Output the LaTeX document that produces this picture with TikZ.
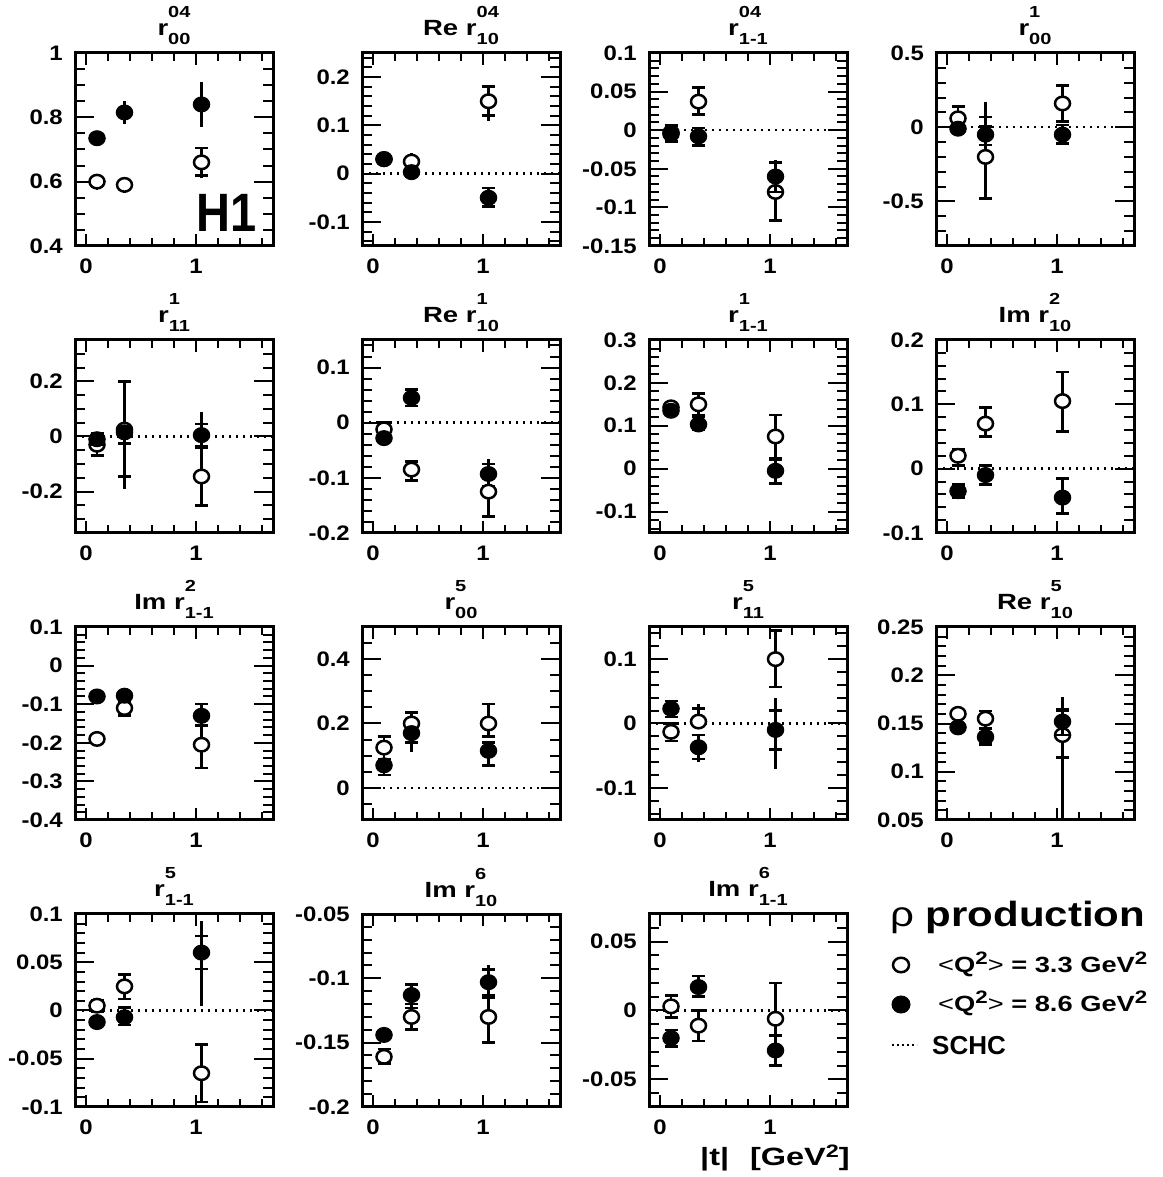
\documentclass[tikz,border=0pt]{standalone}
\usepackage{fontspec}
\setmainfont{Liberation Sans}
\usepackage{graphicx}
\usetikzlibrary{positioning, shapes.geometric, calc}

\newcommand\sx[2][1.14]{\scalebox{#1}[1]{#2}}
\newcommand\sups[1]{\raisebox{8pt}{\fontsize{18}{18}\selectfont #1}}
\newcommand\rtitle[3]{\sx[1.25]{#1\rlap{\raisebox{18pt}{\fontsize{16}{16}\selectfont #2}}\raisebox{-9pt}{\fontsize{16}{16}\selectfont #3}}}

% col, row, ymin, ymax, minor step
\newcommand\smepanel[5]{%
  \pgfmathsetmacro\pxo{75+287*#1}%
  \pgfmathsetmacro\pyo{1177-246-287*#2}%
  \pgfmathsetmacro\yu{193/((#4)-(#3))}%
  \pgfmathsetmacro\ymn{-1*(#3)}%
  \def\ylo{#3}\def\yhi{#4}\def\mstep{#5}%
  \pgfmathtruncatemacro\mfirst{ceil((#3)/(#5)-0.001)}%
  \pgfmathtruncatemacro\mlast{floor((#4)/(#5)+0.001)}%
}

\newcommand\rhoaxes[3]{%
  \draw[frame] (-0.1,\ylo) rectangle (1.7,\yhi);
  \foreach \k in {\mfirst,...,\mlast}{
    \draw[tck] (-0.1,{\k*\mstep}) -- ++(10pt,0);
    \draw[tck] (1.7,{\k*\mstep}) -- ++(-10pt,0);}
  \foreach \v [count=\i] in {#2}{
    \draw[tck] (-0.1,\v) -- ++(19pt,0);
    \draw[tck] (1.7,\v) -- ++(-19pt,0);
    \node[tlab, left=12pt] (#1y\i) at (-0.1,\v) {\sx{\v}};}
  \foreach \t in {0.2,0.4,0.6,0.8,1.2,1.4,1.6}{
    \draw[tck] (\t,\ylo) -- ++(0,8pt);
    \draw[tck] (\t,\yhi) -- ++(0,-8pt);}
  \foreach \t in {0,1}{
    \draw[tck] (\t,\ylo) -- ++(0,12pt);
    \draw[tck] (\t,\yhi) -- ++(0,-12pt);
    \node[tlab, below=13pt] (#1x\t) at (\t,\ylo) {\sx{\t}};}
  \node[ttl, anchor=base, yshift=17pt] (#1t) at (0.8,\yhi) {#3};
}

% name, marker, x, y, low, stat low, stat high, high
\newcommand\smepoint[8]{%
  \draw[ebar] (#3,#5) -- (#3,#8);
  \draw[ebar] (#3,#6) ++(-6.5pt,0) -- ++(13pt,0);
  \draw[ebar] (#3,#7) ++(-6.5pt,0) -- ++(13pt,0);
  \node[#2] (#1) at (#3,#4) {};
}

\begin{document}
\begin{tikzpicture}[x=1pt, y=1pt,
    frame/.style={line width=3pt},
    tck/.style={line width=2pt},
    ebar/.style={line width=2.6pt},
    schc/.style={line width=2.4pt, dash pattern=on 2.4pt off 4.6pt},
    opt/.style={ellipse, draw, fill=white, line width=2.5pt, minimum width=15pt, minimum height=13.5pt, inner sep=0pt},
    fpt/.style={ellipse, draw, fill=black, line width=1pt, minimum width=16.5pt, minimum height=15pt, inner sep=0pt},
    tlab/.style={font=\fontsize{21}{21}\selectfont\bfseries, inner sep=0pt},
    ttl/.style={font=\fontsize{22}{22}\selectfont\bfseries, inner sep=0pt},
    hone/.style={font=\fontsize{54}{54}\selectfont\bfseries, inner sep=0pt},
    leg/.style={font=\fontsize{22}{22}\selectfont\bfseries, inner sep=0pt},
    panel/.style={shift={(\pxo,\pyo)}, x=110pt, y=\yu pt, shift={(0.1,\ymn)}}]
\useasboundingbox[fill=white] (0,0) rectangle (1162,1177);

\smepanel{0}{0}{0.4}{1.0}{0.05}
\begin{scope}[panel]
\rhoaxes{pa}{0.4,0.6,0.8,1}{\rtitle{r}{04}{00}}
\node[hone, anchor=base west] (hone) at (1.0,0.4435) {\sx[0.87]{H1}};
\smepoint{paO1}{opt}{0.1}{0.60}{0.575}{0.60}{0.60}{0.60}
\smepoint{paO2}{opt}{0.35}{0.59}{0.565}{0.59}{0.59}{0.59}
\smepoint{paO3}{opt}{1.05}{0.66}{0.61}{0.62}{0.705}{0.705}
\smepoint{paF1}{fpt}{0.1}{0.735}{0.735}{0.735}{0.735}{0.735}
\smepoint{paF2}{fpt}{0.35}{0.815}{0.78}{0.815}{0.815}{0.85}
\smepoint{paF3}{fpt}{1.05}{0.84}{0.77}{0.84}{0.84}{0.91}
\end{scope}

\smepanel{1}{0}{-0.15}{0.25}{0.02}
\begin{scope}[panel]
\rhoaxes{pb}{-0.1,0,0.1,0.2}{\rtitle{Re r}{04}{10}}
\draw[schc] (-0.1,0) -- (1.7,0);
\smepoint{pbO1}{opt}{0.1}{0.03}{0.03}{0.03}{0.03}{0.03}
\smepoint{pbO2}{opt}{0.35}{0.025}{0.025}{0.025}{0.025}{0.042}
\smepoint{pbO3}{opt}{1.05}{0.15}{0.11}{0.12}{0.18}{0.18}
\smepoint{pbF1}{fpt}{0.1}{0.03}{0.03}{0.03}{0.03}{0.03}
\smepoint{pbF2}{fpt}{0.35}{0.003}{-0.012}{0.003}{0.003}{0.003}
\smepoint{pbF3}{fpt}{1.05}{-0.05}{-0.068}{-0.068}{-0.03}{-0.03}
\end{scope}

\smepanel{2}{0}{-0.15}{0.1}{0.01}
\begin{scope}[panel]
\rhoaxes{pc}{-0.15,-0.1,-0.05,0,0.05,0.1}{\rtitle{r}{04}{1-1}}
\draw[schc] (-0.1,0) -- (1.7,0);
\smepoint{pcO1}{opt}{0.1}{-0.003}{-0.003}{-0.003}{-0.003}{-0.003}
\smepoint{pcO2}{opt}{0.35}{0.037}{0.02}{0.02}{0.055}{0.055}
\smepoint{pcO3}{opt}{1.05}{-0.08}{-0.117}{-0.117}{-0.08}{-0.065}
\smepoint{pcF1}{fpt}{0.1}{-0.005}{-0.015}{-0.015}{0.006}{0.006}
\smepoint{pcF2}{fpt}{0.35}{-0.008}{-0.02}{-0.02}{0.003}{0.003}
\smepoint{pcF3}{fpt}{1.05}{-0.06}{-0.08}{-0.08}{-0.042}{-0.038}
\end{scope}

\smepanel{3}{0}{-0.8}{0.5}{0.1}
\begin{scope}[panel]
\rhoaxes{pd}{-0.5,0,0.5}{\rtitle{r}{1}{00}}
\draw[schc] (-0.1,0) -- (1.7,0);
\smepoint{pdO1}{opt}{0.1}{0.06}{0.0}{0.06}{0.14}{0.14}
\smepoint{pdO2}{opt}{0.35}{-0.2}{-0.48}{-0.48}{0.07}{0.07}
\smepoint{pdO3}{opt}{1.05}{0.16}{0.04}{0.04}{0.28}{0.28}
\smepoint{pdF1}{fpt}{0.1}{-0.01}{-0.01}{-0.01}{-0.01}{-0.01}
\smepoint{pdF2}{fpt}{0.35}{-0.05}{-0.12}{-0.12}{0.005}{0.17}
\smepoint{pdF3}{fpt}{1.05}{-0.05}{-0.11}{-0.11}{0.016}{0.016}
\end{scope}

\smepanel{0}{1}{-0.35}{0.35}{0.05}
\begin{scope}[panel]
\rhoaxes{pe}{-0.2,0,0.2}{\rtitle{r}{1}{11}}
\draw[schc] (-0.1,0) -- (1.7,0);
\smepoint{peO1}{opt}{0.1}{-0.03}{-0.07}{-0.07}{-0.03}{-0.03}
\smepoint{peO2}{opt}{0.35}{0.025}{-0.19}{-0.145}{0.2}{0.2}
\smepoint{peO3}{opt}{1.05}{-0.145}{-0.25}{-0.25}{-0.04}{-0.04}
\smepoint{peF1}{fpt}{0.1}{-0.01}{-0.03}{-0.03}{0.01}{0.01}
\smepoint{peF2}{fpt}{0.35}{0.015}{-0.025}{-0.025}{0.03}{0.03}
\smepoint{peF3}{fpt}{1.05}{0.005}{-0.035}{-0.035}{0.045}{0.09}
\end{scope}

\smepanel{1}{1}{-0.2}{0.15}{0.02}
\begin{scope}[panel]
\rhoaxes{pf}{-0.2,-0.1,0,0.1}{\rtitle{Re r}{1}{10}}
\draw[schc] (-0.1,0) -- (1.7,0);
\smepoint{pfO1}{opt}{0.1}{-0.012}{-0.012}{-0.012}{0.0}{0.0}
\smepoint{pfO2}{opt}{0.35}{-0.085}{-0.105}{-0.105}{-0.07}{-0.07}
\smepoint{pfO3}{opt}{1.05}{-0.125}{-0.17}{-0.17}{-0.115}{-0.115}
\smepoint{pfF1}{fpt}{0.1}{-0.028}{-0.028}{-0.028}{-0.028}{-0.028}
\smepoint{pfF2}{fpt}{0.35}{0.045}{0.03}{0.03}{0.06}{0.06}
\smepoint{pfF3}{fpt}{1.05}{-0.093}{-0.115}{-0.093}{-0.075}{-0.065}
\end{scope}

\smepanel{2}{1}{-0.15}{0.3}{0.02}
\begin{scope}[panel]
\rhoaxes{pg}{-0.1,0,0.1,0.2,0.3}{\rtitle{r}{1}{1-1}}
\smepoint{pgO1}{opt}{0.1}{0.143}{0.143}{0.143}{0.143}{0.143}
\smepoint{pgO2}{opt}{0.35}{0.15}{0.125}{0.125}{0.175}{0.175}
\smepoint{pgO3}{opt}{1.05}{0.075}{0.02}{0.025}{0.125}{0.125}
\smepoint{pgF1}{fpt}{0.1}{0.135}{0.135}{0.135}{0.135}{0.135}
\smepoint{pgF2}{fpt}{0.35}{0.103}{0.09}{0.09}{0.12}{0.12}
\smepoint{pgF3}{fpt}{1.05}{-0.005}{-0.035}{-0.035}{0.02}{0.02}
\end{scope}

\smepanel{3}{1}{-0.1}{0.2}{0.02}
\begin{scope}[panel]
\rhoaxes{ph}{-0.1,0,0.1,0.2}{\rtitle{Im r}{2}{10}}
\draw[schc] (-0.1,0) -- (1.7,0);
\smepoint{phO1}{opt}{0.1}{0.02}{0.005}{0.005}{0.03}{0.03}
\smepoint{phO2}{opt}{0.35}{0.07}{0.05}{0.05}{0.095}{0.095}
\smepoint{phO3}{opt}{1.05}{0.105}{0.058}{0.058}{0.15}{0.15}
\smepoint{phF1}{fpt}{0.1}{-0.035}{-0.045}{-0.045}{-0.025}{-0.025}
\smepoint{phF2}{fpt}{0.35}{-0.01}{-0.025}{-0.025}{0.005}{0.005}
\smepoint{phF3}{fpt}{1.05}{-0.045}{-0.07}{-0.07}{-0.015}{-0.015}
\end{scope}

\smepanel{0}{2}{-0.4}{0.1}{0.02}
\begin{scope}[panel]
\rhoaxes{pi}{-0.4,-0.3,-0.2,-0.1,0,0.1}{\rtitle{Im r}{2}{1-1}}
\smepoint{piO1}{opt}{0.1}{-0.19}{-0.19}{-0.19}{-0.19}{-0.19}
\smepoint{piO2}{opt}{0.35}{-0.11}{-0.13}{-0.13}{-0.095}{-0.095}
\smepoint{piO3}{opt}{1.05}{-0.205}{-0.265}{-0.265}{-0.155}{-0.155}
\smepoint{piF1}{fpt}{0.1}{-0.08}{-0.08}{-0.08}{-0.08}{-0.08}
\smepoint{piF2}{fpt}{0.35}{-0.078}{-0.078}{-0.078}{-0.078}{-0.078}
\smepoint{piF3}{fpt}{1.05}{-0.13}{-0.155}{-0.155}{-0.1}{-0.1}
\end{scope}

\smepanel{1}{2}{-0.1}{0.5}{0.05}
\begin{scope}[panel]
\rhoaxes{pj}{0,0.2,0.4}{\rtitle{r}{5}{00}}
\draw[schc] (-0.1,0) -- (1.7,0);
\smepoint{pjO1}{opt}{0.1}{0.125}{0.09}{0.09}{0.16}{0.16}
\smepoint{pjO2}{opt}{0.35}{0.2}{0.16}{0.16}{0.235}{0.235}
\smepoint{pjO3}{opt}{1.05}{0.2}{0.16}{0.16}{0.26}{0.26}
\smepoint{pjF1}{fpt}{0.1}{0.07}{0.04}{0.04}{0.07}{0.07}
\smepoint{pjF2}{fpt}{0.35}{0.17}{0.11}{0.14}{0.17}{0.17}
\smepoint{pjF3}{fpt}{1.05}{0.115}{0.07}{0.07}{0.14}{0.14}
\end{scope}

\smepanel{2}{2}{-0.15}{0.15}{0.02}
\begin{scope}[panel]
\rhoaxes{pk}{-0.1,0,0.1}{\rtitle{r}{5}{11}}
\draw[schc] (-0.1,0) -- (1.7,0);
\smepoint{pkO1}{opt}{0.1}{-0.013}{-0.027}{-0.027}{0.0}{0.0}
\smepoint{pkO2}{opt}{0.35}{0.003}{0.003}{0.003}{0.023}{0.03}
\smepoint{pkO3}{opt}{1.05}{0.1}{0.057}{0.057}{0.145}{0.145}
\smepoint{pkF1}{fpt}{0.1}{0.023}{0.01}{0.01}{0.035}{0.035}
\smepoint{pkF2}{fpt}{0.35}{-0.037}{-0.06}{-0.055}{-0.018}{-0.018}
\smepoint{pkF3}{fpt}{1.05}{-0.01}{-0.07}{-0.04}{0.02}{0.04}
\end{scope}

\smepanel{3}{2}{0.05}{0.25}{0.01}
\begin{scope}[panel]
\rhoaxes{pl}{0.05,0.1,0.15,0.2,0.25}{\rtitle{Re r}{5}{10}}
\smepoint{plO1}{opt}{0.1}{0.16}{0.16}{0.16}{0.16}{0.16}
\smepoint{plO2}{opt}{0.35}{0.155}{0.145}{0.145}{0.163}{0.163}
\smepoint{plO3}{opt}{1.05}{0.138}{0.05}{0.115}{0.165}{0.165}
\smepoint{plF1}{fpt}{0.1}{0.146}{0.146}{0.146}{0.146}{0.146}
\smepoint{plF2}{fpt}{0.35}{0.136}{0.128}{0.128}{0.145}{0.145}
\smepoint{plF3}{fpt}{1.05}{0.152}{0.138}{0.138}{0.163}{0.177}
\end{scope}

\smepanel{0}{3}{-0.1}{0.1}{0.01}
\begin{scope}[panel]
\rhoaxes{pm}{-0.1,-0.05,0,0.05,0.1}{\rtitle{r}{5}{1-1}}
\draw[schc] (-0.1,0) -- (1.7,0);
\smepoint{pmO1}{opt}{0.1}{0.005}{-0.001}{-0.001}{0.011}{0.011}
\smepoint{pmO2}{opt}{0.35}{0.025}{0.012}{0.012}{0.037}{0.037}
\smepoint{pmO3}{opt}{1.05}{-0.065}{-0.095}{-0.095}{-0.035}{-0.035}
\smepoint{pmF1}{fpt}{0.1}{-0.012}{-0.012}{-0.012}{-0.012}{-0.012}
\smepoint{pmF2}{fpt}{0.35}{-0.007}{-0.015}{-0.015}{0.003}{0.003}
\smepoint{pmF3}{fpt}{1.05}{0.06}{0.005}{0.043}{0.077}{0.093}
\end{scope}

\smepanel{1}{3}{-0.2}{-0.05}{0.01}
\begin{scope}[panel]
\rhoaxes{pn}{-0.2,-0.15,-0.1,-0.05}{\rtitle{Im r}{6}{10}}
\smepoint{pnO1}{opt}{0.1}{-0.161}{-0.166}{-0.166}{-0.155}{-0.155}
\smepoint{pnO2}{opt}{0.35}{-0.13}{-0.14}{-0.14}{-0.12}{-0.12}
\smepoint{pnO3}{opt}{1.05}{-0.13}{-0.15}{-0.15}{-0.115}{-0.115}
\smepoint{pnF1}{fpt}{0.1}{-0.144}{-0.144}{-0.144}{-0.144}{-0.144}
\smepoint{pnF2}{fpt}{0.35}{-0.113}{-0.123}{-0.123}{-0.105}{-0.105}
\smepoint{pnF3}{fpt}{1.05}{-0.103}{-0.113}{-0.113}{-0.093}{-0.09}
\end{scope}

\smepanel{2}{3}{-0.07}{0.07}{0.01}
\begin{scope}[panel]
\rhoaxes{po}{-0.05,0,0.05}{\rtitle{Im r}{6}{1-1}}
\draw[schc] (-0.1,0) -- (1.7,0);
\smepoint{poO1}{opt}{0.1}{0.003}{-0.005}{-0.005}{0.011}{0.011}
\smepoint{poO2}{opt}{0.35}{-0.011}{-0.022}{-0.022}{0.0}{0.0}
\smepoint{poO3}{opt}{1.05}{-0.006}{-0.018}{-0.018}{0.02}{0.02}
\smepoint{poF1}{fpt}{0.1}{-0.02}{-0.026}{-0.026}{-0.014}{-0.014}
\smepoint{poF2}{fpt}{0.35}{0.017}{0.01}{0.01}{0.025}{0.025}
\smepoint{poF3}{fpt}{1.05}{-0.029}{-0.04}{-0.04}{-0.018}{-0.018}
\end{scope}

\node[leg, font=\fontsize{25}{25}\selectfont\bfseries, anchor=base west] (tlab) at (700,12)
  {\sx[1.3]{|t|\hspace{16pt}[GeV\sups{2}]}};

\node[inner sep=0pt, anchor=base west, font=\fontsize{35}{35}\selectfont] (rhohead) at (890,250)
  {\sx[1.2]{ρ \bfseries production}};
\node[opt, minimum width=16pt, minimum height=14.5pt] (lgo) at (901,212) {};
\node[fpt, minimum width=18pt, minimum height=17pt, below=22pt of lgo] (lgf) {};
\node[leg, anchor=base west] (lgotxt) at (938,204)
  {\sx[1.24]{{\mdseries <}Q\sups{2}{\mdseries >} = 3.3 GeV\sups{2}}};
\node[leg, anchor=base west] (lgftxt) at (938,165)
  {\sx[1.24]{{\mdseries <}Q\sups{2}{\mdseries >} = 8.6 GeV\sups{2}}};
\coordinate (schca) at (892,132);
\coordinate (schcb) at (917,132);
\draw[schc, line width=2pt, dash pattern=on 2pt off 3pt] (schca) -- (schcb);
\node[leg, font=\fontsize{26}{26}\selectfont\bfseries, anchor=base west] (schctxt) at (932,122) {SCHC};
\end{tikzpicture}
\end{document}
